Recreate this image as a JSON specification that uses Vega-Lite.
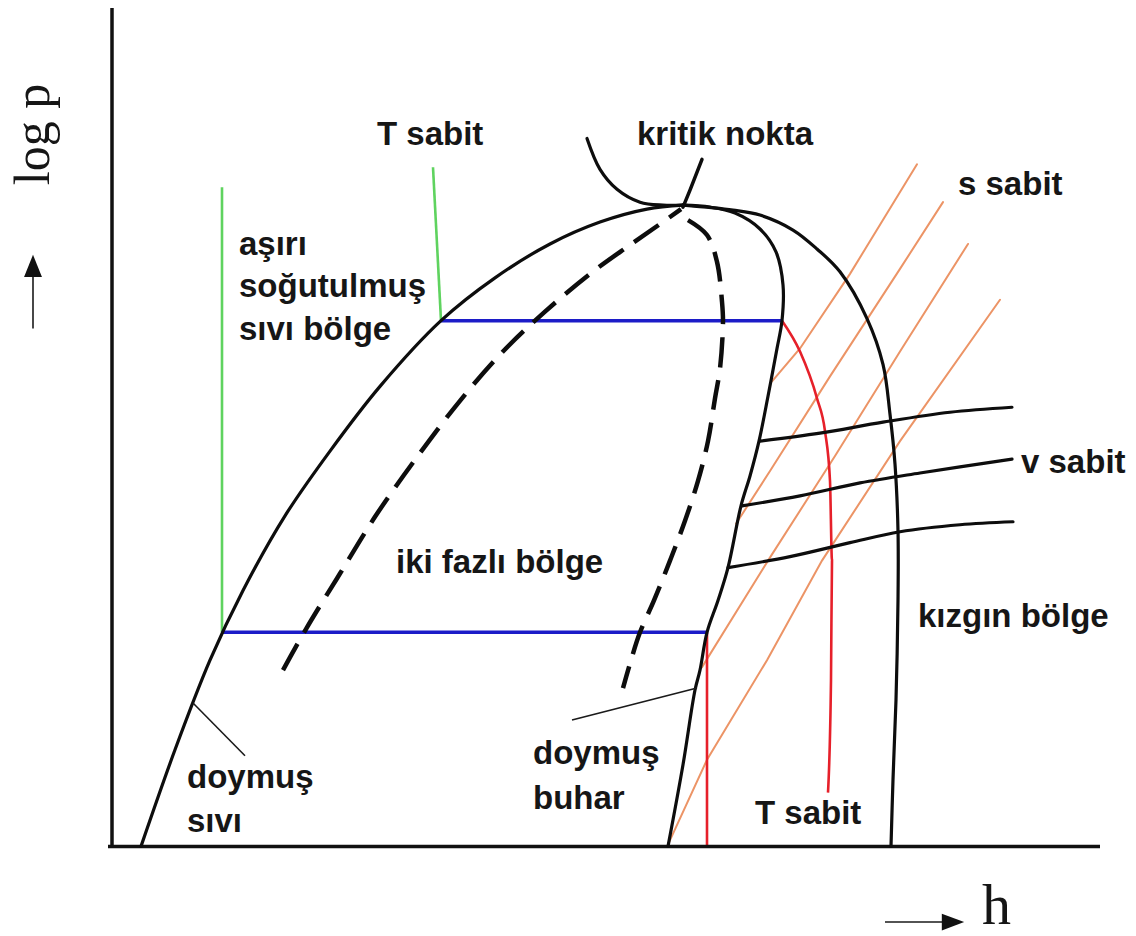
{
  "$schema": "https://vega.github.io/schema/vega-lite/v6.json",
  "width": 1136,
  "height": 936,
  "padding": 0,
  "autosize": {"type": "fit", "contains": "padding"},
  "background": "white",
  "config": {"view": {"stroke": null}},
  "datasets": {
    "curves": [
      {"curve": "axis_p", "i": 0, "h": 112, "logp": 931},
      {"curve": "axis_p", "i": 1, "h": 112, "logp": 88},
      {"curve": "axis_h", "i": 0, "h": 108, "logp": 89},
      {"curve": "axis_h", "i": 1, "h": 1100, "logp": 89},

      {"curve": "sat_liq", "i": 0, "h": 141, "logp": 89},
      {"curve": "sat_liq", "i": 1, "h": 175, "logp": 186},
      {"curve": "sat_liq", "i": 2, "h": 210, "logp": 276},
      {"curve": "sat_liq", "i": 3, "h": 243, "logp": 346},
      {"curve": "sat_liq", "i": 4, "h": 285, "logp": 421},
      {"curve": "sat_liq", "i": 5, "h": 330, "logp": 486},
      {"curve": "sat_liq", "i": 6, "h": 380, "logp": 551},
      {"curve": "sat_liq", "i": 7, "h": 441, "logp": 617},
      {"curve": "sat_liq", "i": 8, "h": 495, "logp": 660},
      {"curve": "sat_liq", "i": 9, "h": 550, "logp": 694},
      {"curve": "sat_liq", "i": 10, "h": 600, "logp": 716},
      {"curve": "sat_liq", "i": 11, "h": 647, "logp": 729},
      {"curve": "sat_liq", "i": 12, "h": 683, "logp": 733},

      {"curve": "sat_vap", "i": 0, "h": 683, "logp": 733},
      {"curve": "sat_vap", "i": 1, "h": 710, "logp": 731},
      {"curve": "sat_vap", "i": 2, "h": 735, "logp": 725},
      {"curve": "sat_vap", "i": 3, "h": 760, "logp": 709},
      {"curve": "sat_vap", "i": 4, "h": 776, "logp": 686},
      {"curve": "sat_vap", "i": 5, "h": 783, "logp": 653},
      {"curve": "sat_vap", "i": 6, "h": 782, "logp": 617},
      {"curve": "sat_vap", "i": 7, "h": 777, "logp": 589},
      {"curve": "sat_vap", "i": 8, "h": 768, "logp": 541},
      {"curve": "sat_vap", "i": 9, "h": 759, "logp": 496},
      {"curve": "sat_vap", "i": 10, "h": 750, "logp": 461},
      {"curve": "sat_vap", "i": 11, "h": 741, "logp": 431},
      {"curve": "sat_vap", "i": 12, "h": 728, "logp": 369},
      {"curve": "sat_vap", "i": 13, "h": 718, "logp": 336},
      {"curve": "sat_vap", "i": 14, "h": 707, "logp": 304},
      {"curve": "sat_vap", "i": 15, "h": 700, "logp": 266},
      {"curve": "sat_vap", "i": 16, "h": 695, "logp": 246},
      {"curve": "sat_vap", "i": 17, "h": 683, "logp": 171},
      {"curve": "sat_vap", "i": 18, "h": 668, "logp": 89},

      {"curve": "superheat", "i": 0, "h": 683, "logp": 733},
      {"curve": "superheat", "i": 1, "h": 733, "logp": 728},
      {"curve": "superheat", "i": 2, "h": 760, "logp": 723},
      {"curve": "superheat", "i": 3, "h": 793, "logp": 708},
      {"curve": "superheat", "i": 4, "h": 817, "logp": 689},
      {"curve": "superheat", "i": 5, "h": 840, "logp": 666},
      {"curve": "superheat", "i": 6, "h": 867, "logp": 619},
      {"curve": "superheat", "i": 7, "h": 883, "logp": 573},
      {"curve": "superheat", "i": 8, "h": 890, "logp": 523},
      {"curve": "superheat", "i": 9, "h": 895, "logp": 473},
      {"curve": "superheat", "i": 10, "h": 898, "logp": 406},
      {"curve": "superheat", "i": 11, "h": 898, "logp": 336},
      {"curve": "superheat", "i": 12, "h": 896, "logp": 236},
      {"curve": "superheat", "i": 13, "h": 893, "logp": 156},
      {"curve": "superheat", "i": 14, "h": 891, "logp": 89},

      {"curve": "crit_iso", "i": 0, "h": 587, "logp": 800},
      {"curve": "crit_iso", "i": 1, "h": 600, "logp": 769},
      {"curve": "crit_iso", "i": 2, "h": 617, "logp": 749},
      {"curve": "crit_iso", "i": 3, "h": 640, "logp": 736},
      {"curve": "crit_iso", "i": 4, "h": 663, "logp": 733},
      {"curve": "crit_iso", "i": 5, "h": 683, "logp": 733},

      {"curve": "crit_ptr", "i": 0, "h": 702, "logp": 779},
      {"curve": "crit_ptr", "i": 1, "h": 690, "logp": 748},
      {"curve": "crit_ptr", "i": 2, "h": 683, "logp": 731},

      {"curve": "v1", "i": 0, "h": 760, "logp": 496},
      {"curve": "v1", "i": 1, "h": 820, "logp": 504},
      {"curve": "v1", "i": 2, "h": 883, "logp": 515},
      {"curve": "v1", "i": 3, "h": 950, "logp": 525},
      {"curve": "v1", "i": 4, "h": 1012, "logp": 530},
      {"curve": "v2", "i": 0, "h": 742, "logp": 431},
      {"curve": "v2", "i": 1, "h": 800, "logp": 441},
      {"curve": "v2", "i": 2, "h": 860, "logp": 454},
      {"curve": "v2", "i": 3, "h": 920, "logp": 464},
      {"curve": "v2", "i": 4, "h": 1012, "logp": 478},
      {"curve": "v3", "i": 0, "h": 728, "logp": 369},
      {"curve": "v3", "i": 1, "h": 790, "logp": 380},
      {"curve": "v3", "i": 2, "h": 850, "logp": 394},
      {"curve": "v3", "i": 3, "h": 900, "logp": 405},
      {"curve": "v3", "i": 4, "h": 960, "logp": 412},
      {"curve": "v3", "i": 5, "h": 1013, "logp": 415},

      {"curve": "x_left", "i": 0, "h": 283, "logp": 266},
      {"curve": "x_left", "i": 1, "h": 307, "logp": 309},
      {"curve": "x_left", "i": 2, "h": 340, "logp": 363},
      {"curve": "x_left", "i": 3, "h": 377, "logp": 423},
      {"curve": "x_left", "i": 4, "h": 420, "logp": 484},
      {"curve": "x_left", "i": 5, "h": 462, "logp": 539},
      {"curve": "x_left", "i": 6, "h": 503, "logp": 586},
      {"curve": "x_left", "i": 7, "h": 545, "logp": 626},
      {"curve": "x_left", "i": 8, "h": 590, "logp": 664},
      {"curve": "x_left", "i": 9, "h": 630, "logp": 693},
      {"curve": "x_left", "i": 10, "h": 660, "logp": 714},
      {"curve": "x_left", "i": 11, "h": 681, "logp": 729},

      {"curve": "x_right", "i": 0, "h": 688, "logp": 718},
      {"curve": "x_right", "i": 1, "h": 707, "logp": 703},
      {"curve": "x_right", "i": 2, "h": 717, "logp": 676},
      {"curve": "x_right", "i": 3, "h": 722, "logp": 636},
      {"curve": "x_right", "i": 4, "h": 723, "logp": 616},
      {"curve": "x_right", "i": 5, "h": 720, "logp": 569},
      {"curve": "x_right", "i": 6, "h": 715, "logp": 539},
      {"curve": "x_right", "i": 7, "h": 708, "logp": 496},
      {"curve": "x_right", "i": 8, "h": 698, "logp": 456},
      {"curve": "x_right", "i": 9, "h": 685, "logp": 416},
      {"curve": "x_right", "i": 10, "h": 670, "logp": 376},
      {"curve": "x_right", "i": 11, "h": 654, "logp": 336},
      {"curve": "x_right", "i": 12, "h": 640, "logp": 304},
      {"curve": "x_right", "i": 13, "h": 631, "logp": 276},
      {"curve": "x_right", "i": 14, "h": 623, "logp": 248},

      {"curve": "s1", "i": 0, "h": 772, "logp": 556},
      {"curve": "s1", "i": 1, "h": 800, "logp": 589},
      {"curve": "s1", "i": 2, "h": 850, "logp": 664},
      {"curve": "s1", "i": 3, "h": 917, "logp": 774},
      {"curve": "s2", "i": 0, "h": 736, "logp": 413},
      {"curve": "s2", "i": 1, "h": 770, "logp": 466},
      {"curve": "s2", "i": 2, "h": 830, "logp": 561},
      {"curve": "s2", "i": 3, "h": 900, "logp": 669},
      {"curve": "s2", "i": 4, "h": 943, "logp": 736},
      {"curve": "s3", "i": 0, "h": 702, "logp": 269},
      {"curve": "s3", "i": 1, "h": 768, "logp": 376},
      {"curve": "s3", "i": 2, "h": 835, "logp": 481},
      {"curve": "s3", "i": 3, "h": 900, "logp": 586},
      {"curve": "s3", "i": 4, "h": 968, "logp": 694},
      {"curve": "s4", "i": 0, "h": 669, "logp": 93},
      {"curve": "s4", "i": 1, "h": 707, "logp": 176},
      {"curve": "s4", "i": 2, "h": 767, "logp": 276},
      {"curve": "s4", "i": 3, "h": 822, "logp": 376},
      {"curve": "s4", "i": 4, "h": 900, "logp": 496},
      {"curve": "s4", "i": 5, "h": 1000, "logp": 638},

      {"curve": "p_high", "i": 0, "h": 441, "logp": 617},
      {"curve": "p_high", "i": 1, "h": 782, "logp": 617},
      {"curve": "p_low", "i": 0, "h": 222, "logp": 304},
      {"curve": "p_low", "i": 1, "h": 707, "logp": 304},

      {"curve": "t_liq_low", "i": 0, "h": 222, "logp": 751},
      {"curve": "t_liq_low", "i": 1, "h": 222, "logp": 304},
      {"curve": "t_liq_high", "i": 0, "h": 433, "logp": 771},
      {"curve": "t_liq_high", "i": 1, "h": 441, "logp": 617},

      {"curve": "t_vap_high", "i": 0, "h": 782, "logp": 617},
      {"curve": "t_vap_high", "i": 1, "h": 800, "logp": 586},
      {"curve": "t_vap_high", "i": 2, "h": 817, "logp": 539},
      {"curve": "t_vap_high", "i": 3, "h": 825, "logp": 506},
      {"curve": "t_vap_high", "i": 4, "h": 830, "logp": 456},
      {"curve": "t_vap_high", "i": 5, "h": 832, "logp": 376},
      {"curve": "t_vap_high", "i": 6, "h": 831, "logp": 256},
      {"curve": "t_vap_high", "i": 7, "h": 828, "logp": 143},
      {"curve": "t_vap_low", "i": 0, "h": 707, "logp": 304},
      {"curve": "t_vap_low", "i": 1, "h": 707, "logp": 89},

      {"curve": "ptr_liq", "i": 0, "h": 193, "logp": 233},
      {"curve": "ptr_liq", "i": 1, "h": 245, "logp": 180},
      {"curve": "ptr_vap", "i": 0, "h": 572, "logp": 216},
      {"curve": "ptr_vap", "i": 1, "h": 697, "logp": 248},

      {"curve": "arrow_p", "i": 0, "h": 33, "logp": 609},
      {"curve": "arrow_p", "i": 1, "h": 33, "logp": 666},
      {"curve": "arrow_h", "i": 0, "h": 885, "logp": 13},
      {"curve": "arrow_h", "i": 1, "h": 948, "logp": 13}
    ],
    "heads": [
      {"dir": "up", "h": 33, "logp": 672},
      {"dir": "right", "h": 953, "logp": 13}
    ],
    "labels": [
      {"text": "T sabit", "h": 377, "logp": 793},
      {"text": "kritik nokta", "h": 637, "logp": 793},
      {"text": "s sabit", "h": 958, "logp": 743},
      {"text": "aşırı", "h": 239, "logp": 683},
      {"text": "soğutulmuş", "h": 239, "logp": 641},
      {"text": "sıvı bölge", "h": 239, "logp": 598},
      {"text": "iki fazlı bölge", "h": 396, "logp": 364},
      {"text": "v sabit", "h": 1021, "logp": 464},
      {"text": "kızgın bölge", "h": 918, "logp": 309},
      {"text": "doymuş", "h": 187, "logp": 148},
      {"text": "sıvı", "h": 187, "logp": 103},
      {"text": "doymuş", "h": 533, "logp": 172},
      {"text": "buhar", "h": 533, "logp": 127},
      {"text": "T sabit", "h": 755, "logp": 111}
    ]
  },
  "encoding": {
    "x": {"field": "h", "type": "quantitative", "scale": {"domain": [0, 1136], "nice": false, "zero": false}, "axis": null},
    "y": {"field": "logp", "type": "quantitative", "scale": {"domain": [0, 936], "nice": false, "zero": false}, "axis": null}
  },
  "layer": [
    {
      "data": {"name": "curves"},
      "transform": [{"filter": {"field": "curve", "oneOf": ["s1", "s2", "s3", "s4"]}}],
      "mark": {"type": "line", "color": "#ec9466", "strokeWidth": 2, "strokeCap": "round"},
      "encoding": {"detail": {"field": "curve"}, "order": {"field": "i"}}
    },
    {
      "data": {"name": "curves"},
      "transform": [{"filter": {"field": "curve", "oneOf": ["t_liq_low", "t_liq_high"]}}],
      "mark": {"type": "line", "color": "#5fd35f", "strokeWidth": 2.6},
      "encoding": {"detail": {"field": "curve"}, "order": {"field": "i"}}
    },
    {
      "data": {"name": "curves"},
      "transform": [{"filter": {"field": "curve", "oneOf": ["t_vap_high", "t_vap_low"]}}],
      "mark": {"type": "line", "color": "#e6202a", "strokeWidth": 2.6, "interpolate": "monotone"},
      "encoding": {"detail": {"field": "curve"}, "order": {"field": "i"}}
    },
    {
      "data": {"name": "curves"},
      "transform": [{"filter": {"field": "curve", "oneOf": ["p_high", "p_low"]}}],
      "mark": {"type": "line", "color": "#1c1cc8", "strokeWidth": 3.5},
      "encoding": {"detail": {"field": "curve"}, "order": {"field": "i"}}
    },
    {
      "data": {"name": "curves"},
      "transform": [{"filter": {"field": "curve", "oneOf": ["axis_p", "axis_h"]}}],
      "mark": {"type": "line", "color": "#111111", "strokeWidth": 3.5},
      "encoding": {"detail": {"field": "curve"}, "order": {"field": "i"}}
    },
    {
      "data": {"name": "curves"},
      "transform": [{"filter": {"field": "curve", "oneOf": ["sat_liq", "sat_vap", "superheat", "crit_iso", "v1", "v2", "v3"]}}],
      "mark": {"type": "line", "color": "#0d0d0d", "strokeWidth": 3.2, "interpolate": "catmull-rom", "strokeCap": "round", "strokeJoin": "round"},
      "encoding": {"detail": {"field": "curve"}, "order": {"field": "i"}}
    },
    {
      "data": {"name": "curves"},
      "transform": [{"filter": {"field": "curve", "equal": "crit_ptr"}}],
      "mark": {"type": "line", "color": "#0d0d0d", "strokeWidth": 3.5, "strokeCap": "round"},
      "encoding": {"order": {"field": "i"}}
    },
    {
      "data": {"name": "curves"},
      "transform": [{"filter": {"field": "curve", "oneOf": ["x_left", "x_right"]}}],
      "mark": {"type": "line", "color": "#0d0d0d", "strokeWidth": 4.5, "strokeDash": [30, 13], "interpolate": "catmull-rom"},
      "encoding": {"detail": {"field": "curve"}, "order": {"field": "i"}}
    },
    {
      "data": {"name": "curves"},
      "transform": [{"filter": {"field": "curve", "oneOf": ["ptr_liq", "ptr_vap", "arrow_p", "arrow_h"]}}],
      "mark": {"type": "line", "color": "#1a1a1a", "strokeWidth": 1.6},
      "encoding": {"detail": {"field": "curve"}, "order": {"field": "i"}}
    },
    {
      "data": {"name": "heads"},
      "transform": [{"filter": {"field": "dir", "equal": "up"}}],
      "mark": {"type": "point", "shape": "M0,-1L0.8,1L-0.8,1Z", "size": 500, "filled": true, "color": "#111111", "opacity": 1, "strokeWidth": 0}
    },
    {
      "data": {"name": "heads"},
      "transform": [{"filter": {"field": "dir", "equal": "right"}}],
      "mark": {"type": "point", "shape": "M1,0L-1,-0.75L-1,0.75Z", "size": 500, "filled": true, "color": "#111111", "opacity": 1, "strokeWidth": 0}
    },
    {
      "data": {"name": "labels"},
      "mark": {"type": "text", "align": "left", "baseline": "alphabetic", "font": "Liberation Sans", "fontWeight": "bold", "fontSize": 33, "color": "#161616"},
      "encoding": {"text": {"field": "text"}}
    },
    {
      "data": {"values": [{"text": "log p", "h": 34, "logp": 804}]},
      "mark": {"type": "text", "align": "center", "baseline": "middle", "angle": 270, "font": "Liberation Serif", "fontSize": 50, "color": "#161616"},
      "encoding": {"text": {"field": "text"}}
    },
    {
      "data": {"values": [{"text": "h", "h": 982, "logp": 11}]},
      "mark": {"type": "text", "align": "left", "baseline": "alphabetic", "font": "Liberation Serif", "fontSize": 58, "color": "#161616"},
      "encoding": {"text": {"field": "text"}}
    }
  ]
}
